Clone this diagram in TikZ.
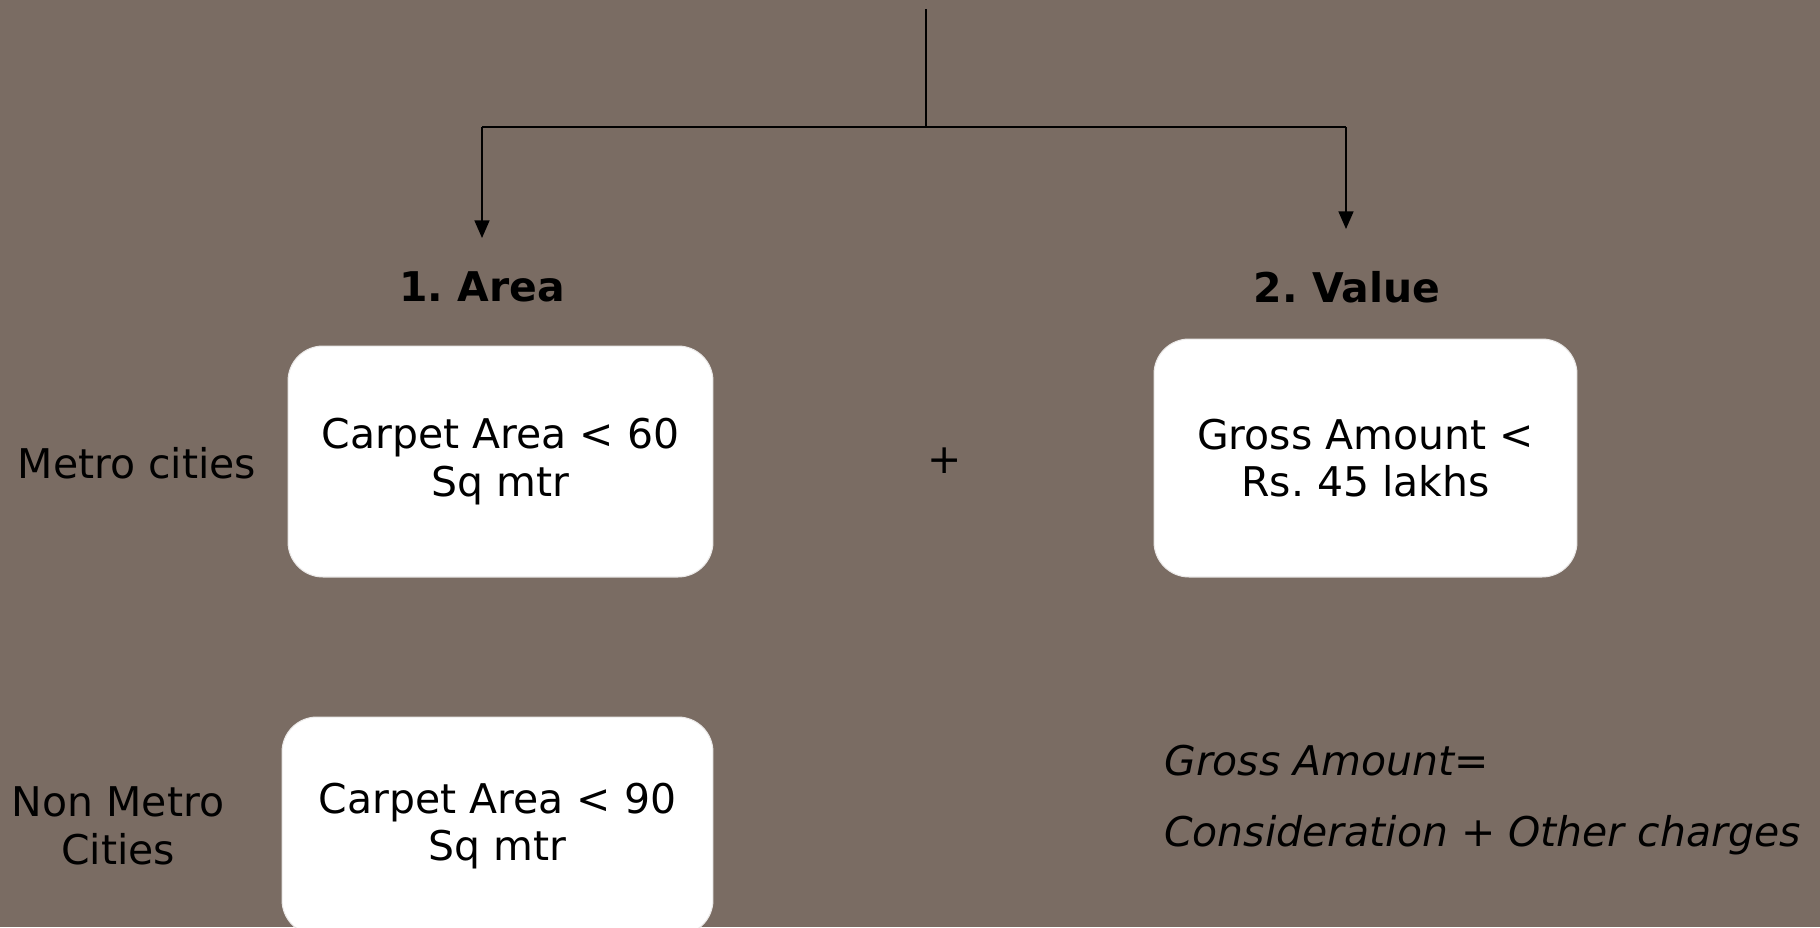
\documentclass[tikz,border=0pt]{standalone}
\usepackage{fontspec}
\setmainfont{DejaVu Sans}
\usetikzlibrary{arrows.meta}
\definecolor{bgbrown}{RGB}{122,108,99}
\frenchspacing

\begin{document}
\begin{tikzpicture}[x=0.02cm, y=-0.02cm,
    txt/.style={font=\fontsize{23.3}{27}\selectfont, align=center, inner sep=0pt},
    card/.style={txt, fill=white, draw=white!85!bgbrown, line width=0.6pt, rounded corners=0.7cm},
    link/.style={line width=0.9pt, black},
    arr/.style={link, -{Triangle[length=10pt, width=8.5pt]}}]

    % Background and page size
    \clip (0,0) rectangle (1820,927);
    \fill[bgbrown] (0,0) rectangle (1820,927);

    % Branch lines
    \coordinate (root) at (926,9);
    \coordinate (split) at (926,127);
    \coordinate (ltop) at (482,127);
    \coordinate (rtop) at (1346,127);
    \coordinate (ltip) at (482,238);
    \coordinate (rtip) at (1346,229);
    \draw[link] (root) -- (split);
    \draw[link] (ltop) -- (rtop);
    \draw[arr] (ltop) -- (ltip);
    \draw[arr] (rtop) -- (rtip);

    % Headings
    \node[txt, font=\fontsize{23.3}{27}\selectfont\bfseries] (area) at (482,287) {1. Area};
    \node[txt, font=\fontsize{23.3}{27}\selectfont\bfseries] (value) at (1347,287) {2. Value};

    % Criteria boxes
    \node[card, minimum width=8.5cm, minimum height=4.62cm] (metrobox) at (500.5,461.5) {Carpet Area < 60\\Sq mtr};
    \node[card, minimum width=8.46cm, minimum height=4.76cm] (grossbox) at (1365.5,458) {Gross Amount <\\Rs. 45 lakhs};
    \node[card, minimum width=8.62cm, minimum height=4.36cm] (nonmetrobox) at (497.5,826) {Carpet Area < 90\\Sq mtr};

    % Side labels
    \node[txt] (metro) at (137,463) {Metro cities};
    \node[txt] (nonmetro) at (118,826) {Non Metro\\Cities};
    \node[txt] (plus) at (945,461) {+};

    % Note on gross amount
    \node[txt, anchor=west, font=\fontsize{23.3}{27}\selectfont\itshape] (grossdef) at (1164,761) {Gross Amount=};
    \node[txt, anchor=west, font=\fontsize{23.3}{27}\selectfont\itshape] (grossparts) at (1164,835) {Consideration + Other charges};

\end{tikzpicture}
\end{document}
